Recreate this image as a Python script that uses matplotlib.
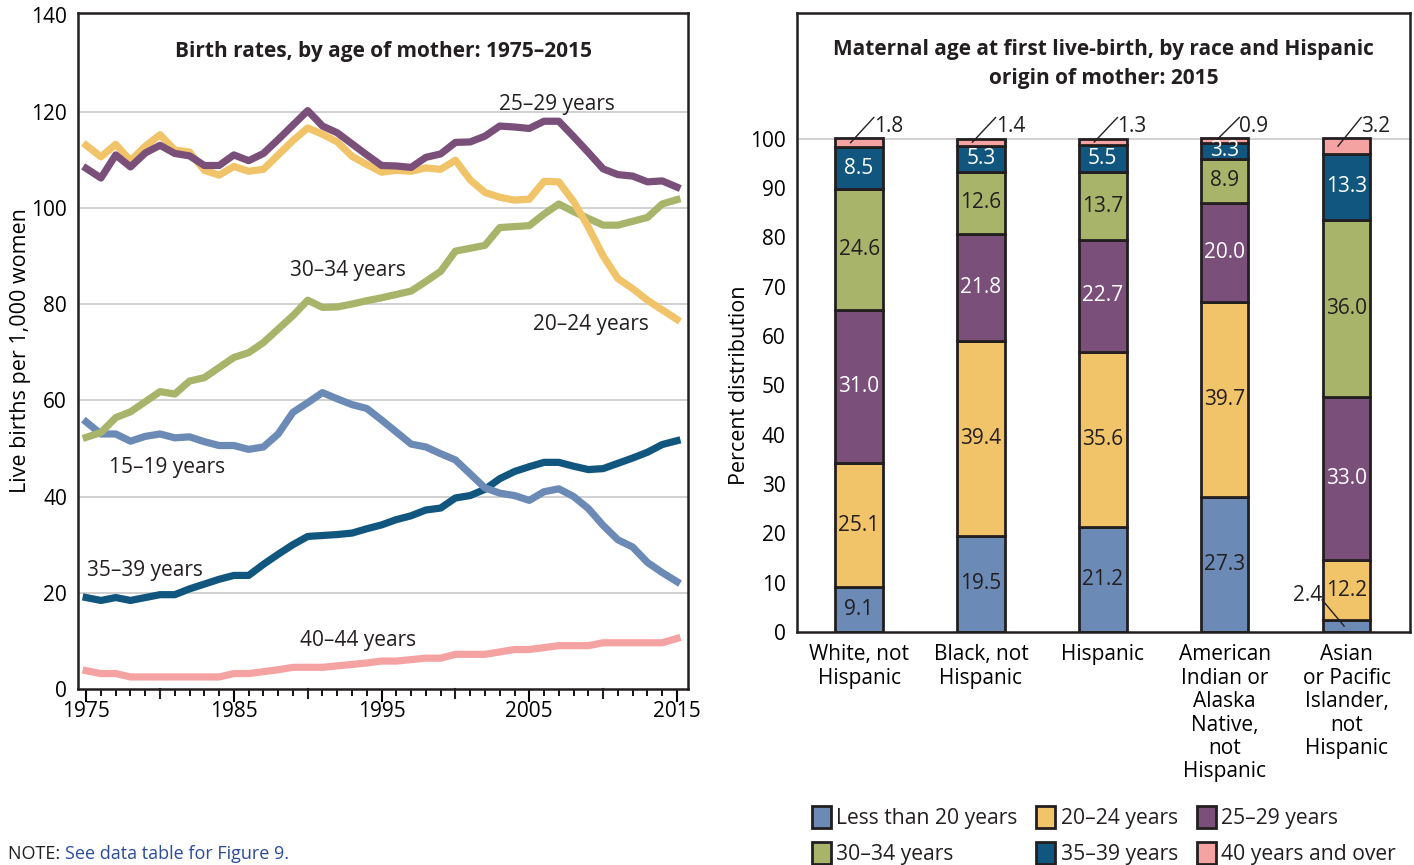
import matplotlib.pyplot as plt
import numpy as np

years = list(range(1975, 2016))

rate_15_19 = [55.5, 53.0, 53.0, 51.5, 52.5, 53.0, 52.2, 52.4, 51.4, 50.6,
              50.6, 49.8, 50.3, 53.0, 57.5, 59.5, 61.6, 60.3, 59.1, 58.3,
              55.9, 53.4, 50.9, 50.3, 48.9, 47.6, 44.7, 41.8, 40.7, 40.2,
              39.2, 41.0, 41.6, 40.0, 37.5, 34.0, 31.0, 29.5, 26.3, 24.2, 22.3]
rate_20_24 = [113.0, 110.6, 113.2, 109.8, 112.8, 115.2, 112.0, 111.6, 107.8, 106.8,
              108.6, 107.6, 108.0, 111.0, 114.0, 116.6, 115.3, 113.7, 110.7, 109.0,
              107.4, 107.8, 107.6, 108.3, 108.0, 109.9, 105.8, 103.2, 102.2, 101.6,
              101.8, 105.5, 105.4, 101.3, 96.0, 90.0, 85.3, 83.2, 80.8, 78.8, 76.8]
rate_25_29 = [108.2, 106.2, 111.0, 108.5, 111.4, 113.0, 111.3, 110.8, 108.8, 108.8,
              111.0, 109.8, 111.3, 114.2, 117.2, 120.2, 117.0, 115.6, 113.3, 111.0,
              108.8, 108.7, 108.4, 110.5, 111.2, 113.6, 113.7, 114.9, 117.0, 116.8,
              116.5, 118.0, 118.0, 114.8, 111.5, 108.1, 106.9, 106.6, 105.4, 105.6, 104.3]
rate_30_34 = [52.3, 53.3, 56.4, 57.6, 59.7, 61.8, 61.3, 64.0, 64.7, 66.8,
              68.9, 69.9, 72.0, 74.8, 77.6, 80.8, 79.3, 79.4, 80.0, 80.7,
              81.3, 82.0, 82.7, 84.7, 86.8, 91.0, 91.6, 92.2, 95.9, 96.1,
              96.3, 98.7, 100.8, 99.2, 97.8, 96.4, 96.4, 97.2, 98.0, 100.8, 101.7]
rate_35_39 = [19.0, 18.4, 19.0, 18.4, 19.0, 19.6, 19.6, 20.8, 21.8, 22.8,
              23.6, 23.6, 25.9, 28.0, 30.0, 31.7, 31.9, 32.1, 32.4, 33.3,
              34.1, 35.2, 36.0, 37.2, 37.6, 39.7, 40.2, 41.5, 43.7, 45.2,
              46.2, 47.1, 47.1, 46.3, 45.6, 45.8, 46.9, 48.0, 49.2, 50.8, 51.6]
rate_40_44 = [3.8, 3.2, 3.2, 2.5, 2.5, 2.5, 2.5, 2.5, 2.5, 2.5,
              3.2, 3.2, 3.6, 4.0, 4.5, 4.5, 4.5, 4.8, 5.1, 5.4,
              5.8, 5.8, 6.1, 6.4, 6.4, 7.2, 7.2, 7.2, 7.7, 8.2,
              8.2, 8.6, 9.0, 9.0, 9.0, 9.6, 9.6, 9.6, 9.6, 9.6, 10.5]

groups = ["White, not\nHispanic", "Black, not\nHispanic", "Hispanic",
          "American\nIndian or\nAlaska\nNative,\nnot\nHispanic",
          "Asian\nor Pacific\nIslander,\nnot\nHispanic"]
age_cats = ["Less than 20 years", "20\u201324 years", "25\u201329 years",
            "30\u201334 years", "35\u201339 years", "40 years and over"]
pct_under20 = [9.1, 19.5, 21.2, 27.3, 2.4]
pct_20_24 = [25.1, 39.4, 35.6, 39.7, 12.2]
pct_25_29 = [31.0, 21.8, 22.7, 20.0, 33.0]
pct_30_34 = [24.6, 12.6, 13.7, 8.9, 36.0]
pct_35_39 = [8.5, 5.3, 5.5, 3.3, 13.3]
pct_40_over = [1.8, 1.4, 1.3, 0.9, 3.2]

C_BLUE = "#6b8ab6"
C_YEL = "#f1c46a"
C_PUR = "#7a4f7a"
C_GRN = "#a9b46b"
C_DBL = "#11567f"
C_PNK = "#f5a3a2"
TXT = "#231f20"


def main():
	plt.rcParams['font.family'] = ['Open Sans', 'DejaVu Sans']
	plt.rcParams['font.size'] = 15
	plt.rcParams['text.color'] = TXT

	fig = plt.figure(figsize=(14.14, 8.65), dpi=100)

	# ---- left: line chart
	ax = fig.add_axes([0.0552, 0.2035, 0.4314, 0.7815])
	ax.set_xlim(1974.45, 2015.75)
	ax.set_ylim(0, 140.5)
	for v in range(20, 140, 20):
		ax.axhline(v, color="#c9c9c9", lw=1.2, zorder=0)
	lw = 5.2
	ax.plot(years, rate_40_44, color=C_PNK, lw=lw)
	ax.plot(years, rate_35_39, color=C_DBL, lw=lw)
	ax.plot(years, rate_15_19, color=C_BLUE, lw=lw)
	ax.plot(years, rate_30_34, color=C_GRN, lw=lw)
	ax.plot(years, rate_20_24, color=C_YEL, lw=lw)
	ax.plot(years, rate_25_29, color=C_PUR, lw=lw)

	ax.text(2006.9, 121.5, "25\u201329 years", ha="center", va="center")
	ax.text(1992.7, 87.0, "30\u201334 years", ha="center", va="center")
	ax.text(2009.2, 75.8, "20\u201324 years", ha="center", va="center")
	ax.text(1980.5, 46.1, "15\u201319 years", ha="center", va="center")
	ax.text(1979.0, 24.6, "35\u201339 years", ha="center", va="center")
	ax.text(1993.4, 10.0, "40\u201344 years", ha="center", va="center")

	ax.set_xticks(range(1975, 2016, 10))
	ax.set_xticks(range(1975, 2016, 1), minor=True)
	ax.set_yticks(range(0, 141, 20))
	ax.tick_params(axis="x", which="major", length=9, width=1.5, pad=0)
	ax.tick_params(axis="x", which="minor", length=5, width=1.3)
	ax.tick_params(axis="y", length=0, pad=8)
	# every 5 years a longer tick
	for yr in range(1980, 2016, 10):
		ax.plot([yr, yr], [0, -1.9], color=TXT, lw=1.5, clip_on=False)
	for s in ax.spines.values():
		s.set_linewidth(1.8)
		s.set_color(TXT)
	ax.set_ylabel("Live births per 1,000 women", fontsize=15.5, va="center")
	ax.yaxis.set_label_coords(-0.095, 0.5)
	ax.set_title("Birth rates, by age of mother: 1975\u20132015", fontweight="bold",
		fontsize=15, y=0.922)

	# ---- right: stacked bars
	ax2 = fig.add_axes([0.5636, 0.2694, 0.4335, 0.7156])
	ax2.set_xlim(-0.51, 4.52)
	ax2.set_ylim(0, 125.5)
	ax2.axhline(100, color="#c9c9c9", lw=1.2, zorder=0)
	x = np.arange(len(groups))
	w = 0.39
	series = [pct_under20, pct_20_24, pct_25_29, pct_30_34, pct_35_39, pct_40_over]
	colors = [C_BLUE, C_YEL, C_PUR, C_GRN, C_DBL, C_PNK]
	lab_col = [TXT, TXT, "white", TXT, "white", TXT]
	bottom = np.zeros(len(groups))
	bars = []
	for k in range(len(series)):
		vals = np.array(series[k])
		b = ax2.bar(x, vals, w, bottom=bottom, color=colors[k], edgecolor=TXT,
			linewidth=2.0, label=age_cats[k], zorder=2)
		bars.append(b)
		for i in range(len(groups)):
			mid = bottom[i] + vals[i] / 2
			if k == 5:
				ax2.plot([x[i] - 0.07, x[i] + 0.12], [mid, 104.3], color=TXT, lw=1, zorder=3)
				ax2.text(x[i] + 0.12, 100.4, "%.1f" % vals[i], ha="left", va="bottom", fontsize=15)
			elif k == 0 and vals[i] < 5:
				ax2.plot([x[i] - 0.2, x[i] - 0.02], [6.5, mid], color=TXT, lw=1, zorder=3)
				ax2.text(x[i] - 0.2, 7.3, "%.1f" % vals[i], ha="right", va="center", fontsize=15)
			else:
				ax2.text(x[i], mid, "%.1f" % vals[i], ha="center", va="center",
					color=lab_col[k], fontsize=15, zorder=4)
		bottom = bottom + vals

	ax2.set_xticks(x)
	ax2.set_xticklabels(groups, fontsize=15, linespacing=1.15, va="top")
	ax2.set_yticks(range(0, 101, 10))
	ax2.tick_params(axis="both", length=0)
	ax2.tick_params(axis="y", pad=8)
	ax2.tick_params(axis="x", pad=9)
	for s in ax2.spines.values():
		s.set_linewidth(1.8)
		s.set_color(TXT)
	ax2.set_ylabel("Percent distribution", fontsize=15.5, va="center")
	ax2.yaxis.set_label_coords(-0.093, 0.398)
	ax2.set_title("Maternal age at first live-birth, by race and Hispanic\norigin of mother: 2015",
		fontweight="bold", fontsize=15, y=0.872, linespacing=1.5)

	order = [0, 3, 1, 4, 2, 5]
	handles = [bars[i] for i in order]
	labels = [age_cats[i] for i in order]
	fig.legend(handles, labels, ncol=3, loc="lower left", bbox_to_anchor=(0.568, -0.01),
		frameon=False, fontsize=15.2, handlelength=0.9, handleheight=1.2,
		handletextpad=0.25, columnspacing=0.9, labelspacing=0.62, borderaxespad=0)

	t1 = fig.text(0.006, 0.002, "NOTE: ", fontsize=13, ha="left", va="bottom")
	ax.annotate("See data table for Figure 9.", xy=(1, 0), xycoords=t1, va="bottom",
		fontsize=13, color="#2d4b9c", annotation_clip=False)

	plt.savefig("out.png", dpi=100)


if __name__ == "__main__":
	main()
